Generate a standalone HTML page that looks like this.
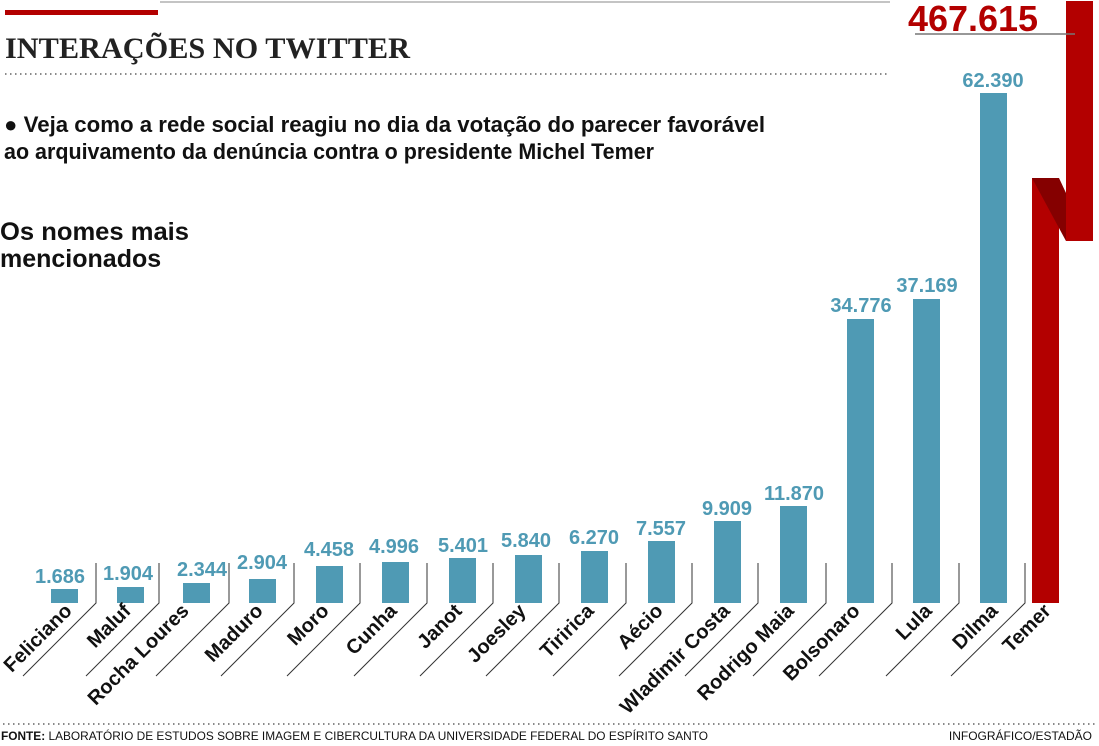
<!DOCTYPE html>
<html><head><meta charset="utf-8"><style>
html,body{margin:0;padding:0;background:#fff}
svg{display:block}
</style></head><body>
<svg width="1099" height="746" viewBox="0 0 1099 746" xmlns="http://www.w3.org/2000/svg" font-family="Liberation Sans, sans-serif">
<rect x="5" y="10" width="153" height="5" fill="#b30000"/>
<line x1="160" y1="2" x2="890" y2="2" stroke="#888" stroke-width="1"/>
<text x="5" y="58" style="font-family:'Liberation Serif',serif" font-weight="bold" font-size="30" fill="#222" textLength="405" lengthAdjust="spacingAndGlyphs">INTERAÇÕES NO TWITTER</text>
<line x1="5" y1="74" x2="890" y2="74" stroke="#444" stroke-width="1.2" stroke-dasharray="1.5,3.5"/>
<text x="4" y="132" font-size="22" font-weight="bold" fill="#111" textLength="761" lengthAdjust="spacingAndGlyphs">● Veja como a rede social reagiu no dia da votação do parecer favorável</text>
<text x="4" y="159" font-size="22" font-weight="bold" fill="#111" textLength="650" lengthAdjust="spacingAndGlyphs">ao arquivamento da denúncia contra o presidente Michel Temer</text>
<text x="0" y="240" font-size="25" font-weight="bold" fill="#111" textLength="189" lengthAdjust="spacingAndGlyphs">Os nomes mais</text>
<text x="0" y="267" font-size="25" font-weight="bold" fill="#111">mencionados</text>
<g fill="#4f9ab4">
<rect x="51" y="589" width="27" height="14"/>
<rect x="117" y="587" width="27" height="16"/>
<rect x="183" y="583" width="27" height="20"/>
<rect x="249" y="579" width="27" height="24"/>
<rect x="316" y="566" width="27" height="37"/>
<rect x="382" y="562" width="27" height="41"/>
<rect x="449" y="558" width="27" height="45"/>
<rect x="515" y="555" width="27" height="48"/>
<rect x="581" y="551" width="27" height="52"/>
<rect x="648" y="541" width="27" height="62"/>
<rect x="714" y="521" width="27" height="82"/>
<rect x="780" y="506" width="27" height="97"/>
<rect x="847" y="319" width="27" height="284"/>
<rect x="913" y="299" width="27" height="304"/>
<rect x="980" y="93" width="27" height="510"/>
</g>
<g font-size="20" font-weight="bold" fill="#4f9ab4" text-anchor="middle">
<text x="60" y="583">1.686</text>
<text x="128" y="580">1.904</text>
<text x="202" y="576">2.344</text>
<text x="262" y="569">2.904</text>
<text x="329" y="556">4.458</text>
<text x="394" y="553">4.996</text>
<text x="463" y="552">5.401</text>
<text x="526" y="547">5.840</text>
<text x="594" y="544">6.270</text>
<text x="661" y="535">7.557</text>
<text x="727" y="515">9.909</text>
<text x="794" y="500">11.870</text>
<text x="861" y="312">34.776</text>
<text x="927" y="292">37.169</text>
<text x="993" y="87">62.390</text>
</g>
<g stroke="#333" stroke-width="1" fill="none">
<polyline points="96,563 96,603 23,676"/>
<polyline points="159,563 159,603 86,676"/>
<polyline points="229,563 229,603 156,676"/>
<polyline points="294,563 294,603 221,676"/>
<polyline points="360,563 360,603 287,676"/>
<polyline points="427,563 427,603 354,676"/>
<polyline points="493,563 493,603 420,676"/>
<polyline points="559,563 559,603 486,676"/>
<polyline points="626,563 626,603 553,676"/>
<polyline points="692,563 692,603 619,676"/>
<polyline points="758,563 758,603 685,676"/>
<polyline points="826,563 826,603 753,676"/>
<polyline points="892,563 892,603 819,676"/>
<polyline points="959,563 959,603 886,676"/>
<polyline points="1025,563 1025,603 951,676"/>
</g>
<g font-size="20" font-weight="bold" fill="#111" text-anchor="end">
<text transform="translate(73,612) rotate(-45)">Feliciano</text>
<text transform="translate(132,612) rotate(-45)">Maluf</text>
<text transform="translate(190,612) rotate(-45)">Rocha Loures</text>
<text transform="translate(264,612) rotate(-45)">Maduro</text>
<text transform="translate(330,612) rotate(-45)">Moro</text>
<text transform="translate(398,612) rotate(-45)">Cunha</text>
<text transform="translate(463,612) rotate(-45)">Janot</text>
<text transform="translate(527,612) rotate(-45)">Joesley</text>
<text transform="translate(595,612) rotate(-45)">Tiririca</text>
<text transform="translate(664,612) rotate(-45)">Aécio</text>
<text transform="translate(731,612) rotate(-45)">Wladimir Costa</text>
<text transform="translate(795,612) rotate(-45)">Rodrigo Maia</text>
<text transform="translate(861,612) rotate(-45)">Bolsonaro</text>
<text transform="translate(933,612) rotate(-45)">Lula</text>
<text transform="translate(999,612) rotate(-45)">Dilma</text>
<text transform="translate(1052,612) rotate(-45)">Temer</text>
</g>
<rect x="1032" y="178" width="27" height="425" fill="#b30000"/>
<rect x="1066" y="1" width="27" height="240" fill="#b30000"/>
<polygon points="1032,178 1059,178 1066,193 1066,241" fill="#850000"/>
<text x="908" y="31" font-size="36" font-weight="bold" fill="#b30000" textLength="130" lengthAdjust="spacingAndGlyphs">467.615</text>
<line x1="915" y1="34" x2="1075" y2="34" stroke="#777" stroke-width="1.5"/>
<line x1="3" y1="724" x2="1095" y2="724" stroke="#444" stroke-width="1.2" stroke-dasharray="1.5,3.5"/>
<text x="1" y="740" font-size="12" fill="#111" textLength="707" lengthAdjust="spacingAndGlyphs"><tspan font-weight="bold">FONTE:</tspan> LABORATÓRIO DE ESTUDOS SOBRE IMAGEM E CIBERCULTURA DA UNIVERSIDADE FEDERAL DO ESPÍRITO SANTO</text>
<text x="1092" y="740" font-size="12" fill="#111" text-anchor="end">INFOGRÁFICO/ESTADÃO</text>
</svg>
</body></html>
